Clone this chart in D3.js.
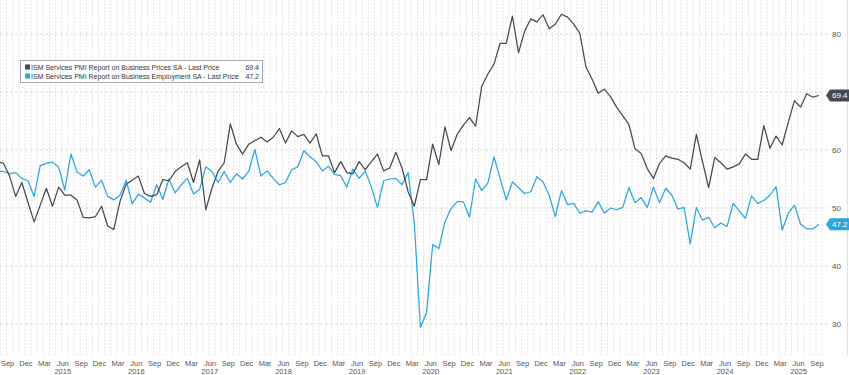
<!DOCTYPE html>
<html lang="en">
<head>
  <meta charset="utf-8">
  <title>ISM Services PMI: Prices vs Employment</title>
  <script src="https://d3js.org/d3.v7.min.js"></script>
  <style>
    body { margin: 0; background: #fff; }
    text { font-family: "Liberation Sans", Arial, sans-serif; }
  </style>
</head>
<body>
<script>
// monthly values, Jul 2014 .. Sep 2025 (one row per year)
var startYear = 2014, startMonth = 6; // July (0-based)

var pricesIdx = [
  58.0, 57.7, 55.5, 52.0, 54.4, 51.0,
  47.6, 50.5, 53.4, 50.3, 53.6, 52.2, 52.2, 51.4, 48.4, 48.3, 48.5, 50.3,
  46.9, 46.3, 51.1, 54.1, 54.8, 55.5, 52.5, 52.0, 52.3, 54.9, 54.7, 56.3,
  57.1, 57.8, 54.4, 58.3, 49.7, 53.4, 56.3, 57.8, 64.5, 61.0, 59.3, 61.0,
  61.6, 62.2, 61.4, 62.2, 63.7, 61.2, 63.3, 62.3, 62.7, 61.2, 62.8, 59.0,
  59.0, 56.1, 58.0, 56.1, 55.9, 58.0, 56.6, 58.0, 59.3, 56.4, 56.9, 59.6,
  56.9, 52.8, 50.3, 54.9, 54.9, 61.0, 57.5, 64.0, 59.9, 62.7, 64.3, 65.6,
  64.1, 71.0, 73.1, 74.8, 78.4, 78.4, 83.1, 76.8, 80.5, 82.6, 82.1, 83.3,
  80.9, 81.7, 83.4, 82.9, 81.7, 80.1, 74.3, 72.2, 69.8, 70.5, 69.2, 67.4,
  65.9, 64.4, 60.2, 59.4, 56.8, 55.1, 57.7, 59.0, 58.6, 58.4, 57.8, 56.7,
  62.7, 58.0, 53.5, 58.7, 57.8, 56.7, 57.1, 57.6, 59.3, 58.4, 58.4, 64.2,
  60.3, 62.4, 60.9, 64.8, 68.5, 67.4, 69.7, 69.1, 69.4
];

var employmentIdx = [
  56.3, 56.3, 55.9, 56.1, 55.1, 54.7,
  52.0, 57.3, 57.7, 57.9, 57.1, 53.1, 59.3, 56.2, 55.5, 56.6, 53.6, 54.8,
  52.0, 51.4, 52.2, 54.8, 50.7, 52.4, 51.7, 51.0, 54.0, 51.5, 55.0, 52.6,
  54.0, 55.1, 52.4, 53.2, 57.1, 56.3, 54.4, 56.3, 54.4, 55.9, 55.0, 56.3,
  60.1, 55.5, 56.4, 55.1, 54.0, 54.4, 56.6, 57.1, 59.9, 58.8, 58.0, 56.4,
  57.2, 55.8, 55.6, 53.6, 56.7, 55.1, 56.4, 53.6, 50.1, 54.7, 55.0, 55.1,
  54.0, 56.1, 47.5, 29.4, 32.0, 43.7, 43.0, 47.6, 49.9, 51.1, 51.1, 48.4,
  55.0, 53.0, 54.3, 58.8, 55.1, 51.4, 54.5, 53.5, 52.5, 52.8, 55.4, 54.5,
  52.2, 48.5, 53.0, 50.6, 50.8, 49.1, 49.5, 49.3, 51.1, 49.1, 50.0, 49.7,
  50.1, 53.5, 50.9, 51.8, 50.1, 53.6, 50.9, 53.4, 52.2, 49.8, 50.1, 43.8,
  50.1, 47.9, 48.4, 46.6, 47.4, 46.8, 50.8, 49.5, 48.2, 52.1, 50.8, 51.3,
  52.2, 53.7, 46.2, 49.1, 50.5, 47.2, 46.4, 46.4, 47.2
];

var seriesNames = [
  "ISM Services PMI Report on Business Prices SA - Last Price",
  "ISM Services PMI Report on Business Employment SA - Last Price"
];
var yTicks = [30, 40, 50, 60, 70, 80];
var monthNames = ["Jan","Feb","Mar","Apr","May","Jun","Jul","Aug","Sep","Oct","Nov","Dec"];

var width = 849, height = 375;
var darkCol = "#434955", blueCol = "#2ba6de";

var svg = d3.select("body").append("svg")
    .attr("width", width)
    .attr("height", height);

// month index k: 0 = Sep 2014
var x = d3.scaleLinear().domain([-2, 132]).range([-2.7, 819]);
var y = d3.scaleLinear().domain([30, 80]).range([324, 34]);
var plotRight = 822;

var n = pricesIdx.length;

// vertical monthly grid
svg.append("g").selectAll("line")
    .data(d3.range(-2, 134))
    .enter().append("line")
    .attr("x1", function(k) { return x(k) - 3; })
    .attr("x2", function(k) { return x(k) - 3; })
    .attr("y1", 0).attr("y2", 356)
    .attr("stroke", "#dcdcdc")
    .attr("stroke-width", 0.8)
    .attr("stroke-dasharray", "2,1.5");

// horizontal grid
svg.append("g").selectAll("line")
    .data(yTicks)
    .enter().append("line")
    .attr("x1", 0).attr("x2", plotRight + 6)
    .attr("y1", function(d) { return y(d); })
    .attr("y2", function(d) { return y(d); })
    .attr("stroke", "#d4d4d4")
    .attr("stroke-width", 0.8)
    .attr("stroke-dasharray", "3,2");

// right edge
svg.append("line")
    .attr("x1", 847.5).attr("x2", 847.5).attr("y1", 0).attr("y2", 356)
    .attr("stroke", "#e2e2e2");

// y tick labels
svg.append("g").selectAll("text")
    .data(yTicks)
    .enter().append("text")
    .attr("x", 832)
    .attr("y", function(d) { return y(d) + 3; })
    .attr("font-size", 8)
    .attr("fill", "#555")
    .text(function(d) { return d; });

// month labels (quarterly)
var qMonths = d3.range(0, 133, 3);
svg.append("g").selectAll("text")
    .data(qMonths)
    .enter().append("text")
    .attr("x", function(k) { return x(k) - 2; })
    .attr("y", 366)
    .attr("text-anchor", "middle")
    .attr("font-size", 7.5)
    .attr("fill", "#555")
    .text(function(k) { return monthNames[(8 + k) % 12]; });

// year labels under June
svg.append("g").selectAll("text")
    .data(d3.range(2015, 2026))
    .enter().append("text")
    .attr("x", function(yr) { return x((yr - 2014) * 12 - 3) - 2; })
    .attr("y", 374)
    .attr("text-anchor", "middle")
    .attr("font-size", 7.5)
    .attr("fill", "#555")
    .text(function(yr) { return yr; });

var line = function(vals) {
  return d3.line()
    .x(function(d, i) { return x(i - 2); })
    .y(function(d) { return y(d); })(vals);
};

svg.append("path")
    .attr("d", line(employmentIdx))
    .attr("fill", "none")
    .attr("stroke", blueCol)
    .attr("stroke-width", 1.25)
    .attr("stroke-linejoin", "round");

svg.append("path")
    .attr("d", line(pricesIdx))
    .attr("fill", "none")
    .attr("stroke", darkCol)
    .attr("stroke-width", 1.25)
    .attr("stroke-linejoin", "round");

// last value tags
function tag(val, col) {
  var cy = y(val);
  var g = svg.append("g");
  g.append("path")
    .attr("d", "M826," + cy + " L830," + (cy - 6) + " L849," + (cy - 6) +
               " L849," + (cy + 6) + " L830," + (cy + 6) + " Z")
    .attr("fill", col);
  g.append("text")
    .attr("x", 832).attr("y", cy + 3)
    .attr("font-size", 8)
    .attr("fill", "#fff")
    .text(val.toFixed(1));
}
tag(pricesIdx[n - 1], darkCol);
tag(employmentIdx[n - 1], blueCol);

// legend
var lg = svg.append("g");
lg.append("rect")
    .attr("x", 20.5).attr("y", 60.5)
    .attr("width", 242).attr("height", 22)
    .attr("fill", "#fff")
    .attr("stroke", "#aaa");
[[darkCol, pricesIdx[n - 1]], [blueCol, employmentIdx[n - 1]]].forEach(function(s, i) {
  var ty = 69.5 + i * 9;
  lg.append("rect")
    .attr("x", 25).attr("y", ty - 5)
    .attr("width", 5).attr("height", 5)
    .attr("fill", s[0]);
  lg.append("text")
    .attr("x", 31).attr("y", ty)
    .attr("font-size", 7)
    .attr("fill", "#333")
    .text(seriesNames[i]);
  lg.append("text")
    .attr("x", 259).attr("y", ty)
    .attr("text-anchor", "end")
    .attr("font-size", 7)
    .attr("fill", "#333")
    .text(s[1].toFixed(1));
});
</script>
</body>
</html>
